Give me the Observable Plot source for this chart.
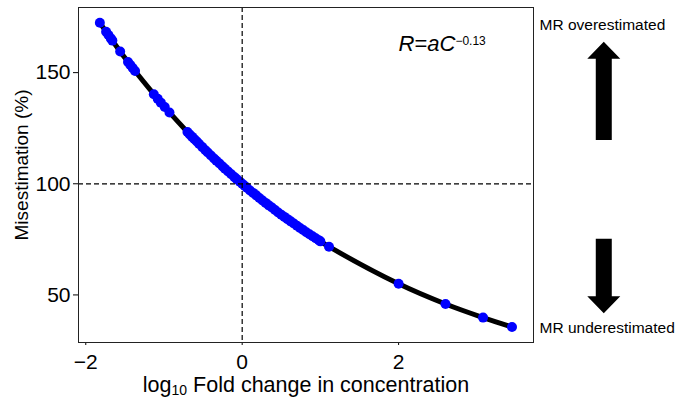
<!DOCTYPE html>
<html><head><meta charset="utf-8">
<script src="https://cdn.jsdelivr.net/npm/d3@7"></script>
<script src="https://cdn.jsdelivr.net/npm/@observablehq/plot@0.6"></script>
<style>body{margin:0;background:#fff} svg{display:block}</style>
</head><body><div id="chart"></div>
<script>
// log10 fold change in concentration (x) and misestimation % (y)
const foldChange = [-1.82,-1.74,-1.71,-1.68,-1.66,-1.56,-1.46,-1.43,-1.40,-1.37,-1.13,-1.08,-1.04,-0.99,-0.93,
  -0.70,-0.67,-0.64,-0.61,-0.58,-0.55,-0.51,-0.47,-0.44,-0.40,-0.36,-0.33,-0.29,-0.25,-0.22,-0.18,-0.14,-0.10,-0.07,-0.03,
  0.00,0.03,0.06,0.10,0.14,0.18,0.22,0.26,0.30,0.34,0.38,0.42,0.46,0.50,0.54,0.58,0.62,0.66,0.70,0.74,0.78,0.82,0.86,0.90,0.94,0.98,1.00,
  1.11,2.00,2.60,3.08,3.45];
const misestimation = [172.4,168.4,166.9,165.4,164.4,159.5,154.8,153.4,152.1,150.7,140.3,138.2,136.5,134.5,132.1,
  123.3,122.2,121.1,120.0,119.0,117.9,116.5,115.1,114.1,112.7,111.4,110.4,109.1,107.8,106.8,105.5,104.3,103.0,102.1,100.9,
  100.0,99.1,98.2,97.0,95.9,94.8,93.6,92.5,91.4,90.3,89.3,88.2,87.1,86.1,85.1,84.1,83.1,82.1,81.1,80.1,79.2,78.2,77.3,76.4,75.5,74.6,74.1,
  71.7,55.0,45.9,39.8,35.6];
const xTicks = [-2, 0, 2];
const yTicks = [50, 100, 150];
const refX = [0];
const refY = [100];
const xLabel = "log10 Fold change in concentration";
const yLabel = "Misestimation (%)";
const formula = "R=aC−0.13";
const annotations = ["MR overestimated", "MR underestimated"];
// arrows: x position and y from tail to tip, in data units
const arrowX = [4.63, 4.63];
const arrowFrom = [119.5, 75.0];
const arrowTo = [163.7, 41.5];

const points = foldChange.map((x, i) => ({x, y: misestimation[i]}));
const arrows = arrowX.map((x, i) => ({x, from: arrowFrom[i], to: arrowTo[i]}));

function arrowMark(index, scales) {
  const {x, y} = scales;
  const g = d3.create("svg:g");
  for (const a of arrows) {
    const cx = x(a.x), y0 = y(a.from), y1 = y(a.to);
    const dir = Math.sign(y1 - y0);
    const head = 17, hw = 16.5, sw = 8;
    const yb = y1 - dir * head;
    g.append("path")
      .attr("d", `M${cx-sw},${y0}L${cx-sw},${yb}L${cx-hw},${yb}L${cx},${y1}L${cx+hw},${yb}L${cx+sw},${yb}L${cx+sw},${y0}Z`)
      .attr("fill", "black");
  }
  return g.node();
}

const font = "'Liberation Sans', Arial, Helvetica, sans-serif";
const plot = Plot.plot({
  width: 677, height: 398,
  marginLeft: 78, marginRight: 144, marginTop: 7, marginBottom: 56,
  style: {fontFamily: font, fontSize: "21px", color: "black", background: "white", overflow: "visible"},
  x: {domain: [-2.093, 3.725]},
  y: {domain: [28.6, 179.3]},
  marks: [
    Plot.axisX(xTicks, {tickSize: 3, tickPadding: 9, label: null, fontSize: 21, tickFormat: d => d < 0 ? "−" + Math.abs(d) : String(d)}),
    Plot.axisY(yTicks, {tickSize: 5, tickPadding: 3, label: null, fontSize: 21}),
    Plot.line(points, {x: "x", y: "y", stroke: "black", strokeWidth: 5, curve: "catmull-rom"}),
    Plot.dot(points, {x: "x", y: "y", r: 5, fill: "#0000ff", stroke: "none"}),
    Plot.ruleX(refX, {stroke: "black", strokeDasharray: "5,3", strokeWidth: 1.2}),
    Plot.ruleY(refY, {stroke: "black", strokeDasharray: "5,3", strokeWidth: 1.2}),
    Plot.frame({stroke: "#222", strokeWidth: 1}),
    Plot.text([formula], {frameAnchor: "top-left", dx: 320, dy: 36, textAnchor: "start", lineAnchor: "middle", fontSize: 22}),
    Plot.text([xLabel], {frameAnchor: "bottom", dy: 42.5, textAnchor: "middle", lineAnchor: "middle", fontSize: 21.5}),
    Plot.text([yLabel], {frameAnchor: "left", dx: -57, dy: -10, rotate: -90, textAnchor: "middle", lineAnchor: "middle", fontSize: 19}),
    Plot.text([annotations[0]], {frameAnchor: "top-right", dx: 6, dy: 18, textAnchor: "start", lineAnchor: "middle", fontSize: 15.5}),
    Plot.text([annotations[1]], {frameAnchor: "bottom-right", dx: 6, dy: -14, textAnchor: "start", lineAnchor: "middle", fontSize: 15.5}),
    arrowMark
  ]
});

const svg = d3.select(plot);
svg.selectAll("text").filter(function() { return this.textContent === formula; }).each(function() {
  const t = d3.select(this).text("");
  t.append("tspan").attr("font-style", "italic").text("R");
  t.append("tspan").text("=");
  t.append("tspan").attr("font-style", "italic").text("aC");
  t.append("tspan").attr("font-size", "12px").attr("dy", "-6").text("−0.13");
});
svg.selectAll("text").filter(function() { return this.textContent === xLabel; }).each(function() {
  const t = d3.select(this).text("");
  t.append("tspan").text("log");
  t.append("tspan").attr("font-size", "14px").attr("dy", "3").text("10");
  t.append("tspan").attr("dy", "-3").text(" Fold change in concentration");
});
document.getElementById("chart").appendChild(plot);
</script>
</body></html>
